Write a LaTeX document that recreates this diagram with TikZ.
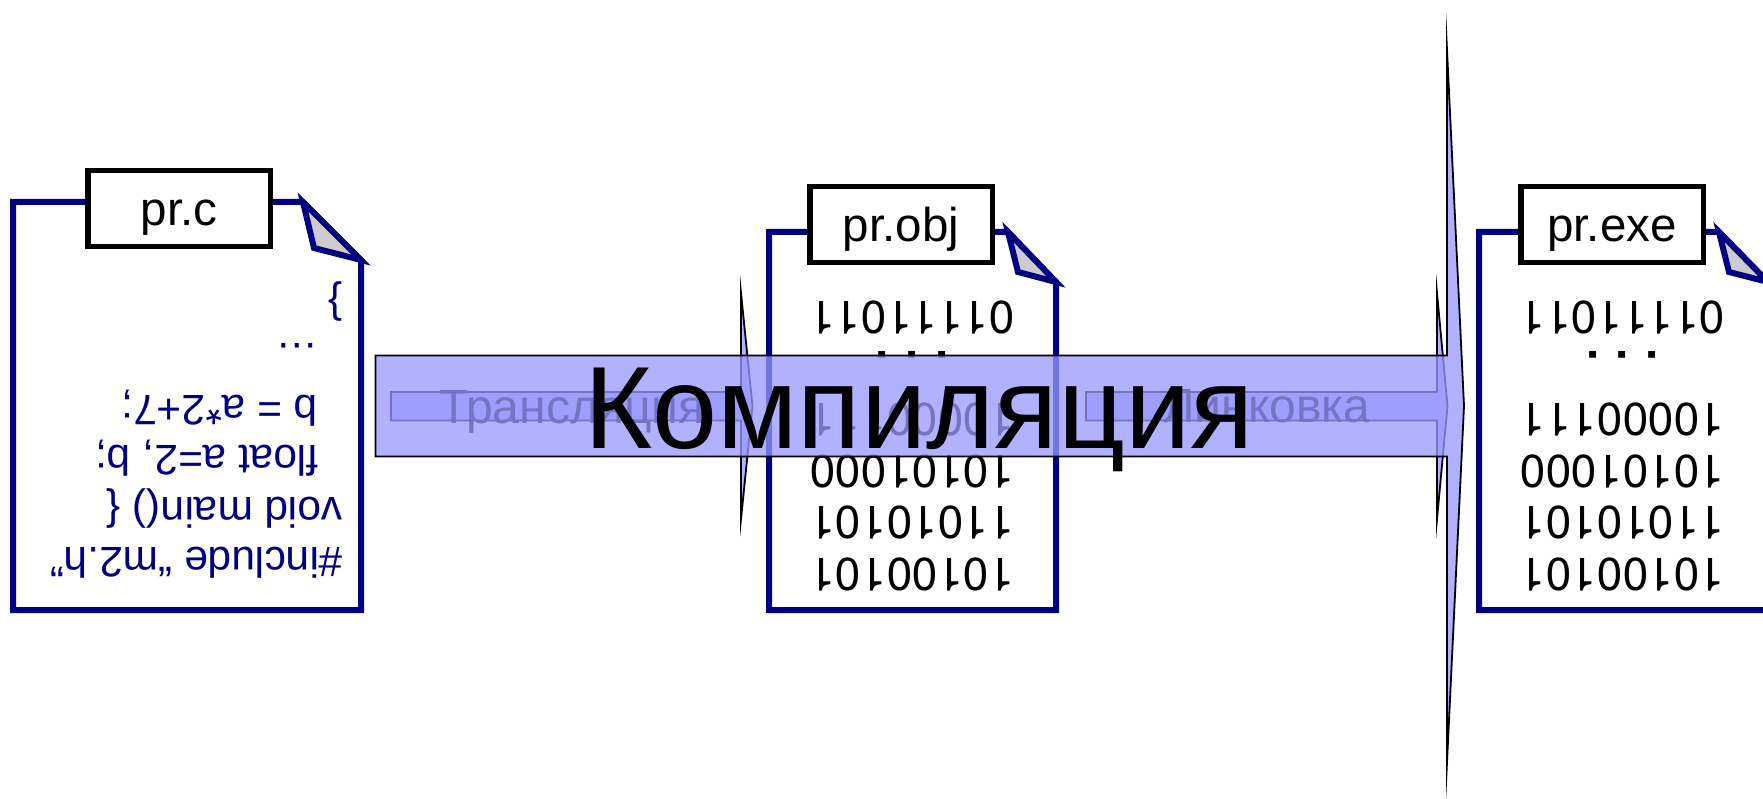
\documentclass[tikz,border=0pt]{standalone}
\usepackage{fontspec}
\setmainfont{Liberation Sans}
\newfontfamily\digitfont{TeX Gyre Heros}
\usepackage{tikz}
\definecolor{docnavy}{RGB}{0,0,128}
\definecolor{arrowblue}{RGB}{153,153,255}

\begin{document}
\begin{tikzpicture}[x=1pt,y=-1pt,
    sheet/.style={line width=6pt,draw=docnavy,fill=white,line join=miter},
    fold/.style={line width=6pt,draw=docnavy,fill=black!20,line join=miter},
    tabbox/.style={draw=black,fill=white,line width=5.5pt,inner sep=0pt,minimum width=182.5pt,minimum height=76pt,text height=45pt,text depth=10pt,font=\fontsize{47.5}{50}\selectfont},
    srcline/.style={rotate=180,anchor=base west,inner sep=0pt,text=docnavy,font=\fontsize{42.5}{46}\selectfont},
    binline/.style={rotate=180,anchor=base,inner sep=0pt,font=\digitfont\fontsize{46}{50}\selectfont},
    passlabel/.style={anchor=base,inner sep=0pt,font=\fontsize{48}{52}\selectfont},
    passarrow/.style={draw=black,fill=arrowblue,fill opacity=.76,line width=1.8pt,miter limit=100}]
    \useasboundingbox[clip] (0,0) rectangle (1763,799);
    \fill[white] (0,0) rectangle (1763,799);
    % source file
    \begin{scope}
        \draw[sheet] (13,202)--(303,202)--(361,260)--(361,610)--(13,610)--cycle;
        \draw[fold] (303,202)--(314,248)--(361,260)--cycle;
        \node[tabbox] (tabc) at (179,208.5) {pr.c};
        \node[srcline] (srcA) at (343,547) {\#include “m2.h”};
        \node[srcline] (srcB) at (343,497) {void main() \{};
        \node[srcline] (srcC) at (319,445) {float a=2, b;};
        \node[srcline] (srcD) at (318,395) {b = a*2+7;};
        \node[srcline] (srcE) at (319,343) {…};
        \node[srcline] (srcF) at (343,291) {\}};
    \end{scope}
    % object file
    \begin{scope}
        \draw[sheet] (769,232)--(1008,232)--(1056,282)--(1056,610)--(769,610)--cycle;
        \draw[fold] (1008,232)--(1018,272)--(1056,282)--cycle;
        \node[tabbox] (tabobj) at (901,224.3) {pr.obj};
        \node[binline] (objA) at (912,302) {01111011};
        \node[binline] (objB) at (912,352) {\bfseries . . .};
        \node[binline] (objC) at (912,403) {10000111};
        \node[binline] (objD) at (912,455) {10101000};
        \node[binline] (objE) at (912,506) {11010101};
        \node[binline] (objF) at (912,558) {10100101};
    \end{scope}
    % executable file
    \begin{scope}
        \draw[sheet] (1479,232)--(1719,232)--(1768,282)--(1768,610)--(1479,610)--cycle;
        \draw[fold] (1719,232)--(1729,272)--(1768,282)--cycle;
        \node[tabbox] (tabexe) at (1612,224.3) {pr.exe};
        \node[binline] (exeA) at (1622.5,302) {01111011};
        \node[binline] (exeB) at (1622.5,352) {\bfseries . . .};
        \node[binline] (exeC) at (1622.5,403) {10000111};
        \node[binline] (exeD) at (1622.5,455) {10101000};
        \node[binline] (exeE) at (1622.5,506) {11010101};
        \node[binline] (exeF) at (1622.5,558) {10100101};
    \end{scope}
    % the two passes, then the wide arrow over them
    \draw[passarrow] (391,392)--(741,392)--(741,293)--(752.5,406)--(741,519)--(741,420.5)--(391,420.5)--cycle;
    \node[passlabel] (transl) at (572,423) {Трансляция};
    \draw[passarrow] (1086,392)--(1437,392)--(1437,293)--(1447.5,406)--(1437,519)--(1437,420.5)--(1086,420.5)--cycle;
    \node[passlabel] (link) at (1267,422) {Линковка};
    \draw[passarrow] (375.5,355.5)--(1447,355.5)--(1447,50)--(1464,406)--(1447,762)--(1447,456.5)--(375.5,456.5)--cycle;
    \node[anchor=base,inner sep=0pt,font=\fontsize{117}{120}\selectfont] (compile) at (919,448) {Компиляция};
\end{tikzpicture}
\end{document}
